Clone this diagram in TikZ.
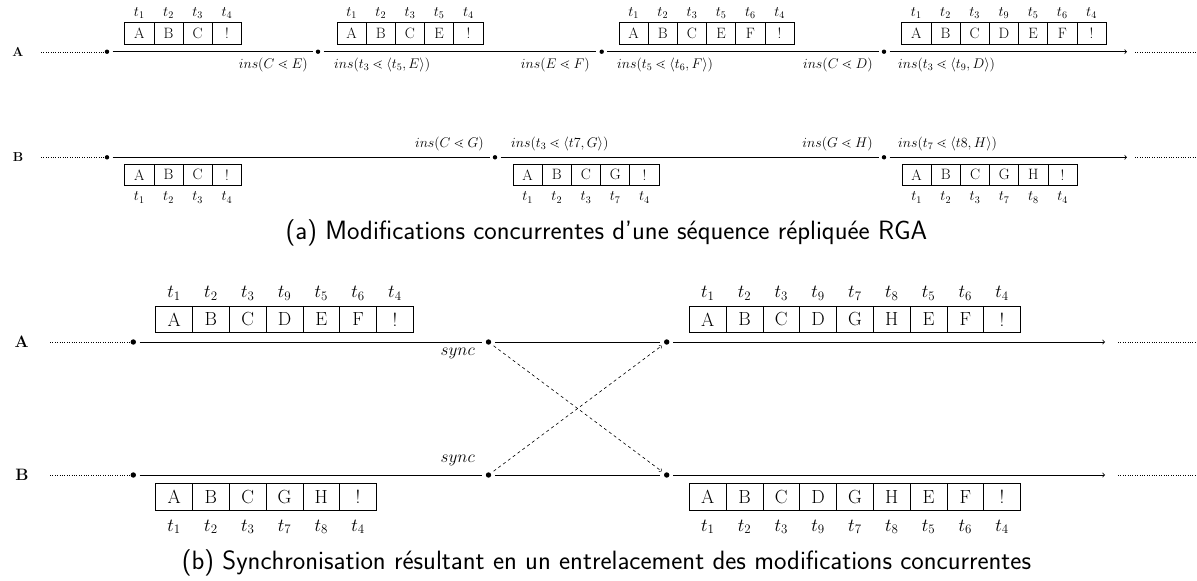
\RequirePackage{fix-cm}
\documentclass[tikz,border=0pt]{standalone}
\usepackage{amsmath}
\usepackage{amssymb}
\usepackage{tikz}
\usetikzlibrary{arrows}

\begin{document}
\begin{tikzpicture}[x=1pt,y=-1pt,
  tl/.style={line width=0.8pt},
  event/.style={circle,fill,inner sep=0pt,minimum size=4.4pt,outer sep=3.3pt},
  bigevent/.style={event,minimum size=5.4pt,outer sep=3.6pt},
  cell/.style={draw,line width=0.7pt,inner sep=0pt,minimum width=29.2pt,minimum height=21.3pt,font=\fontsize{15}{18}\selectfont},
  bigcell/.style={cell,line width=0.8pt,minimum width=36.8pt,minimum height=26.7pt,font=\fontsize{19}{23}\selectfont},
  tag/.style={inner sep=0pt,font=\fontsize{14.5}{17}\selectfont},
  bigtag/.style={inner sep=0pt,font=\fontsize{18.5}{22}\selectfont},
  op/.style={inner sep=0pt,font=\fontsize{14}{17}\selectfont},
  bigop/.style={inner sep=0pt,font=\fontsize{17.2}{20}\selectfont},
  site/.style={font=\fontsize{13}{15}\selectfont\bfseries},
  bigsite/.style={font=\fontsize{16.5}{19}\selectfont\bfseries},
  caption/.style={inner sep=0pt,font=\sffamily\fontsize{26.5}{31}\selectfont}]
\useasboundingbox (0,0) rectangle (1197,581);

\node[site] (siteA) at (18,51.7) {A};
\coordinate (inA) at (41,51.7);
\node[event] (a1) at (107,51.7) {};
\node[event] (a2) at (318,51.7) {};
\node[event] (a3) at (601.7,51.7) {};
\node[event] (a4) at (884,51.7) {};
\coordinate (endA) at (1127,51.7);
\coordinate (outA) at (1135,51.7);
\coordinate (farA) at (1200,51.7);
\draw[dotted] (inA) -- (a1.center);
\draw[tl] (a1) -- (a2) -- (a3) -- (a4);
\draw[tl,->] (a4) -- (endA);
\draw[dotted] (outA) -- (farA);

\foreach \ch/\ts [count=\i] in {A/1,B/2,C/3,!/4}{
  \node[cell] (ca1\i) at ({124.7+29.2*\i-14.6},33.3) {\ch};
  \node[tag] (ta1\i) at ({124.7+29.2*\i-14.6},13.3) {$t_{\ts}$};
}
\foreach \ch/\ts [count=\i] in {A/1,B/2,C/3,E/5,!/4}{
  \node[cell] (ca2\i) at ({337+29.2*\i-14.6},33.3) {\ch};
  \node[tag] (ta2\i) at ({337+29.2*\i-14.6},13.3) {$t_{\ts}$};
}
\foreach \ch/\ts [count=\i] in {A/1,B/2,C/3,E/5,F/6,!/4}{
  \node[cell] (ca3\i) at ({619+29.2*\i-14.6},33.3) {\ch};
  \node[tag] (ta3\i) at ({619+29.2*\i-14.6},13.3) {$t_{\ts}$};
}
\foreach \ch/\ts [count=\i] in {A/1,B/2,C/3,D/9,E/5,F/6,!/4}{
  \node[cell] (ca4\i) at ({901.7+29.2*\i-14.6},33.3) {\ch};
  \node[tag] (ta4\i) at ({901.7+29.2*\i-14.6},13.3) {$t_{\ts}$};
}

\node[op,anchor=east] (opA1) at (308,65) {$ins(C \lessdot E)$};
\node[op,anchor=west] (opA2) at (334,65) {$ins(t_3 \lessdot \langle t_5, E\rangle)$};
\node[op,anchor=east] (opA3) at (590,65) {$ins(E \lessdot F)$};
\node[op,anchor=west] (opA4) at (617,65) {$ins(t_5 \lessdot \langle t_6, F\rangle)$};
\node[op,anchor=east] (opA5) at (873,65) {$ins(C \lessdot D)$};
\node[op,anchor=west] (opA6) at (898,65) {$ins(t_3 \lessdot \langle t_9, D\rangle)$};

\node[site] (siteB) at (18,157.3) {B};
\coordinate (inB) at (41,157.3);
\node[event] (b1) at (107,157.3) {};
\node[event] (b2) at (495,157.3) {};
\node[event] (b3) at (884,157.3) {};
\coordinate (endB) at (1127,157.3);
\coordinate (outB) at (1135,157.3);
\coordinate (farB) at (1200,157.3);
\draw[dotted] (inB) -- (b1.center);
\draw[tl] (b1) -- (b2) -- (b3);
\draw[tl,->] (b3) -- (endB);
\draw[dotted] (outB) -- (farB);

\foreach \ch/\ts [count=\i] in {A/1,B/2,C/3,!/4}{
  \node[cell] (cb1\i) at ({124.7+29.2*\i-14.6},174.8) {\ch};
  \node[tag] (tb1\i) at ({124.7+29.2*\i-14.6},197.5) {$t_{\ts}$};
}
\foreach \ch/\ts [count=\i] in {A/1,B/2,C/3,G/7,!/4}{
  \node[cell] (cb2\i) at ({513+29.2*\i-14.6},174.8) {\ch};
  \node[tag] (tb2\i) at ({513+29.2*\i-14.6},197.5) {$t_{\ts}$};
}
\foreach \ch/\ts [count=\i] in {A/1,B/2,C/3,G/7,H/8,!/4}{
  \node[cell] (cb3\i) at ({902+29.2*\i-14.6},174.8) {\ch};
  \node[tag] (tb3\i) at ({902+29.2*\i-14.6},197.5) {$t_{\ts}$};
}

\node[op,anchor=east] (opB1) at (484,144) {$ins(C \lessdot G)$};
\node[op,anchor=west] (opB2) at (511,144) {$ins(t_3 \lessdot \langle t7, G\rangle)$};
\node[op,anchor=east] (opB3) at (873,144) {$ins(G \lessdot H)$};
\node[op,anchor=west] (opB4) at (898,144) {$ins(t_7 \lessdot \langle t8, H\rangle)$};

\node[caption] (capA) at (606.5,233.3) {(a) Modifications concurrentes d'une séquence répliquée RGA};

\node[bigsite] (syncSiteA) at (21.7,342) {A};
\coordinate (sinA) at (50,342);
\node[bigevent] (sa1) at (133.3,342) {};
\node[bigevent] (sa2) at (488.5,342) {};
\node[bigevent] (sa3) at (666.7,342) {};
\coordinate (sendA) at (1105,342);
\coordinate (soutA) at (1118,342);
\coordinate (sfarA) at (1200,342);
\draw[dotted] (sinA) -- (sa1.center);
\draw[tl] (sa1) -- (sa2) -- (sa3);
\draw[tl,->] (sa3) -- (sendA);
\draw[dotted] (soutA) -- (sfarA);

\foreach \ch/\ts [count=\i] in {A/1,B/2,C/3,D/9,E/5,F/6,!/4}{
  \node[bigcell] (sca1\i) at ({155.7+36.8*\i-18.4},319.3) {\ch};
  \node[bigtag] (sta1\i) at ({155.7+36.8*\i-18.4},293.3) {$t_{\ts}$};
}
\foreach \ch/\ts [count=\i] in {A/1,B/2,C/3,D/9,G/7,H/8,E/5,F/6,!/4}{
  \node[bigcell] (sca2\i) at ({689.3+36.8*\i-18.4},319.3) {\ch};
  \node[bigtag] (sta2\i) at ({689.3+36.8*\i-18.4},293.3) {$t_{\ts}$};
}
\node[bigop,anchor=east] (syncA) at (475,353.3) {$sync$};

\node[bigsite] (syncSiteB) at (22,475) {B};
\coordinate (sinB) at (50,475);
\node[bigevent] (sb1) at (133.3,475) {};
\node[bigevent] (sb2) at (488.5,475) {};
\node[bigevent] (sb3) at (666.7,475) {};
\coordinate (sendB) at (1105,475);
\coordinate (soutB) at (1118,475);
\coordinate (sfarB) at (1200,475);
\draw[dotted] (sinB) -- (sb1.center);
\draw[tl] (sb1) -- (sb2) -- (sb3);
\draw[tl,->] (sb3) -- (sendB);
\draw[dotted] (soutB) -- (sfarB);

\foreach \ch/\ts [count=\i] in {A/1,B/2,C/3,G/7,H/8,!/4}{
  \node[bigcell] (scb1\i) at ({155.7+36.8*\i-18.4},497) {\ch};
  \node[bigtag] (stb1\i) at ({155.7+36.8*\i-18.4},526.7) {$t_{\ts}$};
}
\foreach \ch/\ts [count=\i] in {A/1,B/2,C/3,D/9,G/7,H/8,E/5,F/6,!/4}{
  \node[bigcell] (scb2\i) at ({689.3+36.8*\i-18.4},497) {\ch};
  \node[bigtag] (stb2\i) at ({689.3+36.8*\i-18.4},526.7) {$t_{\ts}$};
}
\node[bigop,anchor=east] (syncB) at (475,460) {$sync$};

\draw[dashed,line width=0.6pt,->] (sa2) -- (sb3);
\draw[dashed,line width=0.6pt,->] (sb2) -- (sa3);

\node[caption] (capB) at (606.5,563.3) {(b) Synchronisation résultant en un entrelacement des modifications concurrentes};
\end{tikzpicture}
\end{document}
